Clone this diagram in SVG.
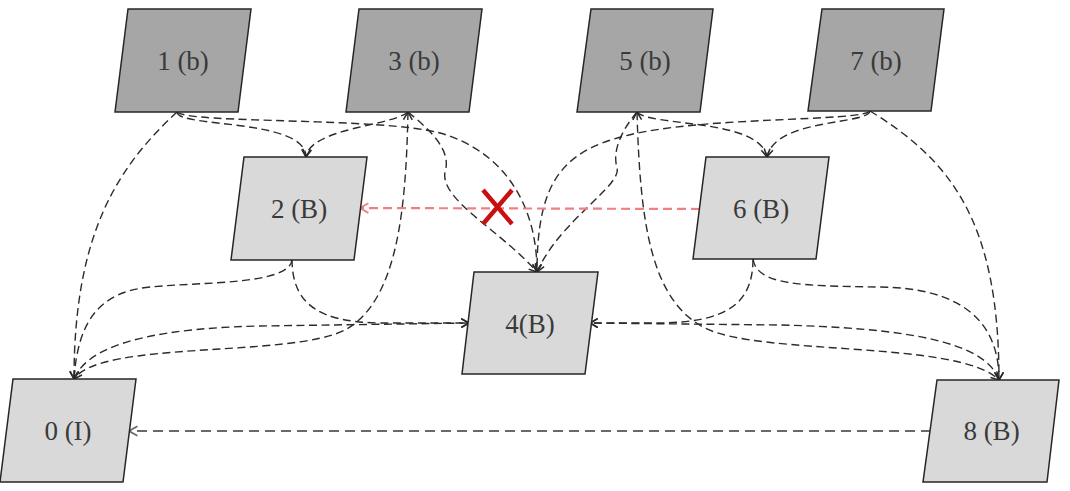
<svg xmlns="http://www.w3.org/2000/svg" width="1070" height="491" viewBox="0 0 1070 491">
<style>
.nd{stroke:#262626;stroke-width:1.5}
.top{fill:#a6a6a6}
.low{fill:#d9d9d9}
.lbl{font-family:"Liberation Serif","Times New Roman",serif;font-size:27px;fill:#3a3a3a;text-anchor:middle}
.e{fill:none;stroke:#2b2b2b;stroke-width:1.4;stroke-dasharray:8 4.5}
.g{fill:none;stroke:#6a6a6a;stroke-width:2;stroke-dasharray:10 6}
.r{fill:none;stroke:#f08080;stroke-width:2.2;stroke-dasharray:9 5}
</style>
<defs>
<marker id="ak" viewBox="0 0 10 10" refX="9" refY="5" markerWidth="11" markerHeight="11" markerUnits="userSpaceOnUse" orient="auto-start-reverse">
<path d="M2,1 L9,5 L2,9" fill="none" stroke="#2b2b2b" stroke-width="1.4"/>
</marker>
<marker id="ag" viewBox="0 0 10 10" refX="9" refY="5" markerWidth="12" markerHeight="12" markerUnits="userSpaceOnUse" orient="auto">
<path d="M2,1 L9,5 L2,9" fill="none" stroke="#6a6a6a" stroke-width="1.5"/>
</marker>
<marker id="ar" viewBox="0 0 10 10" refX="9" refY="5" markerWidth="12" markerHeight="12" markerUnits="userSpaceOnUse" orient="auto">
<path d="M2,1 L9,5 L2,9" fill="none" stroke="#f08080" stroke-width="1.6"/>
</marker>
</defs>
<rect width="1070" height="491" fill="#fff"/>
<g id="connectors">
<path class="e" d="M177,112 C177,128 306,118 306,157" marker-end="url(#ak)"/>
<path class="e" d="M177,112 C190,124 380,117 440,133 C500,150 537,200 537,272" marker-end="url(#ak)"/>
<path class="e" d="M177,112 C120,165 74,230 74,379" marker-end="url(#ak)"/>
<path class="e" d="M408,112 C392,126 310,128 306,157" marker-end="url(#ak)"/>
<path class="e" d="M408,112 C430,130 452,150 445,172 C440,200 500,230 537,272" marker-end="url(#ak)"/>
<path class="e" d="M408,112 C406,200 400,300 345,330 C290,358 100,340 74,379" marker-start="url(#ak)" marker-end="url(#ak)"/>
<path class="e" d="M292,259 C292,285 200,282 150,287 C100,292 78,320 74,379" marker-end="url(#ak)"/>
<path class="e" d="M292,259 C292,305 320,322 380,323 L469,323" marker-end="url(#ak)"/>
<path class="e" d="M74,379 C90,340 170,328 260,326 L469,323" marker-end="url(#ak)"/>
<path class="e" d="M870,111 C868,125 775,118 767,157" marker-end="url(#ak)"/>
<path class="e" d="M637,112 C650,127 760,118 767,157" marker-end="url(#ak)"/>
<path class="e" d="M870,111 C860,122 700,116 625,136 C560,152 537,185 537,272" marker-end="url(#ak)"/>
<path class="e" d="M637,112 C622,130 612,150 617,168 C622,186 560,220 537,272" marker-end="url(#ak)"/>
<path class="e" d="M637,112 C640,220 650,300 705,328 C760,356 960,340 999,380" marker-start="url(#ak)" marker-end="url(#ak)"/>
<path class="e" d="M753,259 C757,285 800,286 880,287 C960,288 999,320 999,380" marker-end="url(#ak)"/>
<path class="e" d="M870,111 C950,160 999,220 999,380" marker-end="url(#ak)"/>
<path class="e" d="M753,259 C753,305 725,322 660,323 L590,323" marker-end="url(#ak)"/>
<path class="e" d="M999,380 C985,340 900,328 780,325 L590,323" marker-end="url(#ak)"/>
<path class="g" d="M931,431 L129,431" marker-end="url(#ag)"/>
<path class="r" d="M700,209 L360,208" marker-end="url(#ar)"/>
<path d="M483,190 L512,224 M512,190 L483,224" fill="none" stroke="#c81010" stroke-width="4.5" stroke-linecap="butt"/>
</g>
<g id="node1"><polygon class="nd top" points="128,9 251,9 238,112 115,112"/><text class="lbl" x="183" y="69.5">1 (b)</text></g>
<g id="node3"><polygon class="nd top" points="359,9 482,9 469,112 346,112"/><text class="lbl" x="414" y="69.5">3 (b)</text></g>
<g id="node5"><polygon class="nd top" points="591,9 713,9 700,112 577,112"/><text class="lbl" x="645" y="69.5">5 (b)</text></g>
<g id="node7"><polygon class="nd top" points="822,9 944,9 931,111 808,111"/><text class="lbl" x="876" y="69.5">7 (b)</text></g>
<g id="node2"><polygon class="nd low" points="244,157 367,157 354,260 231,260"/><text class="lbl" x="299" y="217.5">2 (B)</text></g>
<g id="node6"><polygon class="nd low" points="706,157 829,157 816,259 693,259"/><text class="lbl" x="761" y="217.5">6 (B)</text></g>
<g id="node4"><polygon class="nd low" points="474,272 598,272 585,374 462,374"/><text class="lbl" x="530" y="332.5">4(B)</text></g>
<g id="node0"><polygon class="nd low" points="13,379 136,379 123,482 0,482"/><text class="lbl" x="68" y="440">0 (I)</text></g>
<g id="node8"><polygon class="nd low" points="937,380 1059,380 1047,482 923,482"/><text class="lbl" x="991.5" y="440">8 (B)</text></g>
</svg>
